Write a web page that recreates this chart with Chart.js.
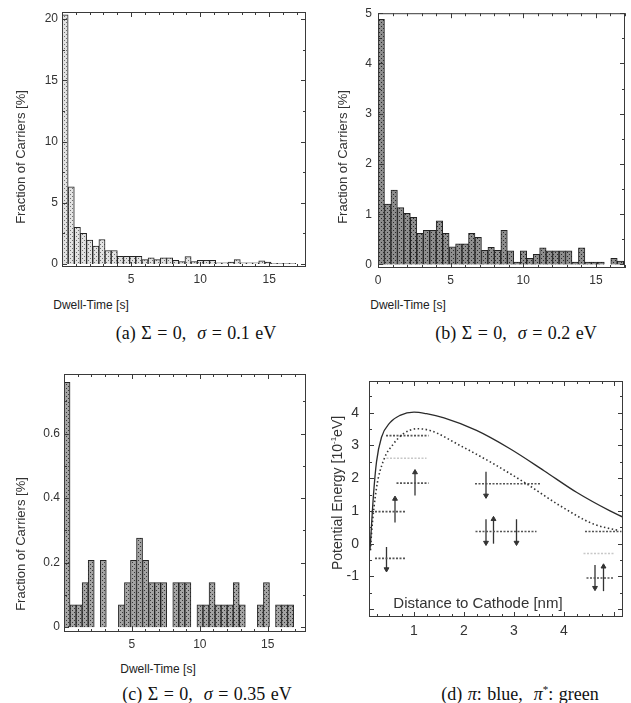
<!DOCTYPE html>
<html>
<head>
<meta charset="utf-8">
<script src="https://cdn.jsdelivr.net/npm/chart.js@4.4.1/dist/chart.umd.min.js"></script>
<style>
  body { margin: 0; background: #fff; width: 631px; height: 703px; position: relative; overflow: hidden;
         font-family: "Liberation Sans", Arial, sans-serif; color: #333; }
  canvas { position: absolute; }
  .yt { position: absolute; transform: translate(-50%, -50%) rotate(-90deg); white-space: nowrap; font-size: 13px; }
  .xt { position: absolute; transform: translate(-50%, -50%); white-space: nowrap; font-size: 12px; color: #222; }
  .cap { position: absolute; transform: translate(-50%, -50%); white-space: nowrap; color: #111;
         font-family: "Liberation Serif", "Times New Roman", serif; font-size: 18px; word-spacing: 1px; }
</style>
</head>
<body>
<canvas id="chartA" width="315" height="290" style="left:0;top:0"></canvas>
<canvas id="chartB" width="316" height="290" style="left:315px;top:0"></canvas>
<canvas id="chartC" width="315" height="305" style="left:0;top:350px"></canvas>
<canvas id="chartD" width="316" height="290" style="left:315px;top:350px"></canvas>

<div class="yt" style="left:20px;top:157px">Fraction of Carriers [%]</div>
<div class="yt" style="left:342px;top:157px">Fraction of Carriers [%]</div>
<div class="yt" style="left:20px;top:544px">Fraction of Carriers [%]</div>
<div class="yt" style="left:337px;top:493px;font-size:14px">Potential Energy [10<sup style="font-size:8px">-1</sup>eV]</div>

<div class="xt" style="left:91px;top:305px">Dwell-Time [s]</div>
<div class="xt" style="left:408px;top:305px">Dwell-Time [s]</div>
<div class="xt" style="left:158px;top:669px">Dwell-Time [s]</div>
<div class="xt" style="left:478px;top:602px;font-size:15px;color:#333">Distance to Cathode [nm]</div>

<div class="cap" style="left:196px;top:333px">(a) Σ = 0, &nbsp;<i>σ</i> = 0.1 eV</div>
<div class="cap" style="left:516px;top:333px">(b) Σ = 0, &nbsp;<i>σ</i> = 0.2 eV</div>
<div class="cap" style="left:207px;top:694px">(c) Σ = 0, &nbsp;<i>σ</i> = 0.35 eV</div>
<div class="cap" style="left:520px;top:694px">(d) <i>π</i>: blue, &nbsp;<i>π</i><sup style="font-size:11px">*</sup>: green</div>

<script>
// histogram bins (dwell time, seconds)
const binWidth = 0.445;

// (a) sigma = 0.1 eV
const fracA = [20.35, 6.3, 3.0, 2.5, 1.95, 1.45, 2.0, 1.1, 1.1, 0.63,
               0.63, 0.63, 0.63, 0.35, 0.5, 0.35, 0.5, 0.5, 0.3, 0.2,
               0.6, 0.2, 0.3, 0.3, 0.3, 0.1, 0.1, 0.15, 0.35, 0.1,
               0.1, 0.1, 0.25, 0.15, 0.05, 0.05, 0.05, 0.05];
// (b) sigma = 0.2 eV
const fracB = [4.88, 1.2, 1.48, 1.13, 1.02, 0.94, 0.62, 0.68, 0.68, 0.87,
               0.62, 0.35, 0.41, 0.41, 0.62, 0.54, 0.28, 0.34, 0.28, 0.68,
               0.27, 0.05, 0.27, 0.12, 0.2, 0.33, 0.27, 0.27, 0.27, 0.27,
               0.05, 0.33, 0.05, 0.05, 0.05, 0, 0.12, 0.07];
// (c) sigma = 0.35 eV
const fracC = [0.759, 0.069, 0.069, 0.138, 0.207, 0, 0.207, 0, 0, 0.069,
               0.138, 0.207, 0.276, 0.207, 0.138, 0.138, 0.138, 0, 0.138, 0.138,
               0.138, 0, 0.069, 0.069, 0.138, 0.069, 0.069, 0.069, 0.138, 0.069,
               0, 0, 0.069, 0.138, 0, 0.069, 0.069, 0.069];

const xTicksA = [5, 10, 15];
const yTicksA = [0, 5, 10, 15, 20];
const xTicksB = [0, 5, 10, 15];
const yTicksB = [0, 1, 2, 3, 4, 5];
const xTicksC = [5, 10, 15];
const yTicksC = [0, 0.2, 0.4, 0.6];

// (d) potential energy vs distance to cathode
const solidX = [0.12, 0.14, 0.19, 0.25, 0.35, 0.52, 0.72, 1.0, 1.25, 1.6, 2.25, 2.92, 3.6, 4.25, 4.92, 5.18];
const solidE = [-0.2, 0.3, 1.5, 2.5, 3.25, 3.7, 3.92, 4.02, 3.97, 3.84, 3.46, 2.9, 2.23, 1.57, 1.0, 0.81];
const dottedX = [0.13, 0.15, 0.25, 0.39, 0.59, 0.79, 1.05, 1.32, 1.92, 2.59, 3.25, 3.92, 4.59, 5.1];
const dottedE = [-0.2, 0.3, 1.7, 2.54, 3.05, 3.36, 3.51, 3.46, 3.0, 2.44, 1.83, 1.16, 0.6, 0.4];

const levelFrom = [0.44, 0.45, 0.65, 0.15, 0.22, 2.22, 2.23, 4.42, 4.39, 4.45];
const levelTo   = [1.29, 1.25, 1.29, 0.84, 0.85, 3.52, 3.45, 5.15, 4.99, 4.99];
const levelE    = [3.3, 2.61, 1.85, 0.98, -0.45, 1.83, 0.37, 0.37, -0.3, -1.05];
const levelType = ['π', 'π*', 'π', 'π', 'π', 'π', 'π', 'π', 'π*', 'π'];

const arrowX    = [1.02, 0.62, 0.45, 2.44, 2.44, 2.59, 3.05, 4.62, 4.79];
const arrowFrom = [1.47, 0.65, -0.1, 2.2, 0.75, 0.0, 0.75, -0.65, -1.45];
const arrowTo   = [2.18, 1.37, -0.78, 1.47, 0.03, 0.75, 0.03, -1.35, -0.7];

const xTicksD = [1, 2, 3, 4];
const yTicksD = [-1, 0, 1, 2, 3, 4];

// frame round the plot with inward ticks on all four sides
const frameTicks = {
  id: 'frameTicks',
  afterDraw(chart, args, o) {
    const ctx = chart.ctx, a = chart.chartArea;
    ctx.save();
    ctx.strokeStyle = '#3a3a3a';
    ctx.lineWidth = 1;
    ctx.strokeRect(a.left + 0.5, a.top + 0.5, a.right - a.left - 1, a.bottom - a.top - 1);
    const sx = chart.scales.x, sy = chart.scales.y;
    const marks = (s, step, major) => {
      const out = [];
      const n0 = Math.ceil(s.min / step - 1e-6), n1 = Math.floor(s.max / step + 1e-6);
      for (let n = n0; n <= n1; n++) {
        const v = n * step;
        const big = Math.abs(v / major - Math.round(v / major)) < 1e-6;
        out.push([Math.round(s.getPixelForValue(v)) + 0.5, big ? 5 : 3]);
      }
      return out;
    };
    ctx.beginPath();
    marks(sx, o.xMinor, o.xMajor).forEach(([p, L]) => {
      ctx.moveTo(p, a.bottom); ctx.lineTo(p, a.bottom - L);
      ctx.moveTo(p, a.top); ctx.lineTo(p, a.top + L);
    });
    marks(sy, o.yMinor, o.yMajor).forEach(([p, L]) => {
      ctx.moveTo(a.left, p); ctx.lineTo(a.left + L, p);
      ctx.moveTo(a.right, p); ctx.lineTo(a.right - L, p);
    });
    ctx.stroke();
    ctx.restore();
  }
};

function dotPattern(bg, dot) {
  const c = document.createElement('canvas');
  c.width = 4; c.height = 4;
  const g = c.getContext('2d');
  g.fillStyle = bg; g.fillRect(0, 0, 4, 4);
  g.fillStyle = dot;
  g.fillRect(0, 0, 1, 1); g.fillRect(2, 2, 1, 1);
  return g.createPattern(c, 'repeat');
}

function axes(p) {
  const tickFont = { family: 'Liberation Sans', size: p.fontSize || 12 };
  return {
    x: {
      type: 'linear', min: p.xMin, max: p.xMax, offset: false,
      grid: { display: false, drawTicks: false }, border: { display: false },
      afterBuildTicks: s => { s.ticks = p.xTicks.map(v => ({ value: v })); },
      afterFit: s => { s.height = p.xH; },
      ticks: { font: tickFont, color: '#333', padding: p.xPad, maxRotation: 0, autoSkip: false }
    },
    y: {
      type: 'linear', min: p.yMin, max: p.yMax,
      grid: { display: false, drawTicks: false }, border: { display: false },
      afterBuildTicks: s => { s.ticks = p.yTicks.map(v => ({ value: v })); },
      afterFit: s => { s.width = p.yW; },
      ticks: { font: tickFont, color: '#333', padding: p.yPad, autoSkip: false }
    }
  };
}

function histogram(id, values, fill, p) {
  return new Chart(document.getElementById(id), {
    type: 'bar',
    data: {
      datasets: [{
        data: values.map((v, i) => ({ x: (i + 0.5) * binWidth, y: v })),
        backgroundColor: fill,
        borderColor: '#222',
        borderWidth: 1,
        barPercentage: 1,
        categoryPercentage: 1
      }]
    },
    options: {
      responsive: false, animation: false, devicePixelRatio: 1,
      layout: { padding: { top: p.padTop, right: p.padRight, left: 0, bottom: 0 } },
      plugins: { legend: { display: false }, tooltip: { enabled: false },
                 frameTicks: { xMinor: 1, xMajor: 5, yMinor: p.yMinor, yMajor: p.yMajor } },
      scales: axes(p)
    },
    plugins: [frameTicks]
  });
}

histogram('chartA', fracA, dotPattern('#e2e2e2', '#707070'), {
  xMin: 0, xMax: 17.66, yMin: -0.25, yMax: 20.58, xTicks: xTicksA, yTicks: yTicksA,
  padTop: 12, padRight: 9, yW: 62, xH: 23, xPad: 5, yPad: 4, yMinor: 2.5, yMajor: 5
});
histogram('chartB', fracB, dotPattern('#8e8e8e', '#2a2a2a'), {
  xMin: 0, xMax: 17.0, yMin: -0.07, yMax: 5.0, xTicks: xTicksB, yTicks: yTicksB,
  padTop: 12, padRight: 6, yW: 63, xH: 22, xPad: 5, yPad: 6, yMinor: 0.5, yMajor: 1
});
histogram('chartC', fracC, dotPattern('#a4a4a4', '#383838'), {
  xMin: 0, xMax: 17.82, yMin: -0.015, yMax: 0.785, xTicks: xTicksC, yTicks: yTicksC,
  padTop: 24, padRight: 9, yW: 64, xH: 23, xPad: 5, yPad: 4, yMinor: 0.1, yMajor: 0.2
});

// (d) curves, energy levels and spin arrows
const dSets = [];
dSets.push({
  data: solidX.map((x, i) => ({ x, y: solidE[i] })),
  borderColor: '#2b2b2b', borderWidth: 1.3, pointRadius: 0, cubicInterpolationMode: 'monotone'
});
dSets.push({
  data: dottedX.map((x, i) => ({ x, y: dottedE[i] })),
  borderColor: '#333', borderWidth: 1.6, borderDash: [1.5, 2.5], pointRadius: 0, cubicInterpolationMode: 'monotone'
});
levelE.forEach((e, i) => {
  dSets.push({
    data: [{ x: levelFrom[i], y: e }, { x: levelTo[i], y: e }],
    borderColor: levelType[i] === 'π' ? '#555' : '#c8c8c8',
    borderWidth: 1.6, borderDash: [2, 1.5], pointRadius: 0
  });
});
arrowX.forEach((x, i) => {
  const up = arrowTo[i] > arrowFrom[i];
  dSets.push({
    data: [{ x, y: arrowFrom[i] }, { x, y: arrowTo[i] }],
    borderColor: '#333', borderWidth: 1.3,
    pointRadius: [0, 2.8], pointStyle: 'triangle', pointRotation: up ? 0 : 180,
    pointBackgroundColor: '#333', pointBorderColor: '#333', pointBorderWidth: 1
  });
});

new Chart(document.getElementById('chartD'), {
  type: 'line',
  data: { datasets: dSets },
  options: {
    responsive: false, animation: false, devicePixelRatio: 1,
    layout: { padding: { top: 31, right: 8, left: 0, bottom: 0 } },
    plugins: { legend: { display: false }, tooltip: { enabled: false },
               frameTicks: { xMinor: 0.25, xMajor: 1, yMinor: 0.5, yMajor: 1 } },
    scales: axes({
      xMin: 0.1, xMax: 5.18, yMin: -2.24, yMax: 4.97, xTicks: xTicksD, yTicks: yTicksD,
      yW: 54, xH: 23, xPad: 6, yPad: 10, fontSize: 14
    })
  },
  plugins: [frameTicks]
});
</script>
</body>
</html>
